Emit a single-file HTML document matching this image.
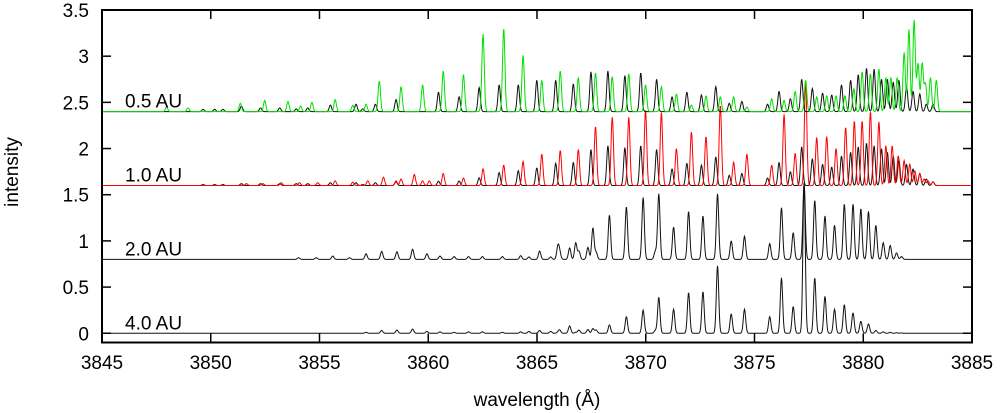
<!DOCTYPE html>
<html><head><meta charset="utf-8">
<style>
html,body{margin:0;padding:0;background:#fff;}
svg{display:block;font-family:"Liberation Sans",Arial,sans-serif;}
</style></head>
<body>
<svg id="chart" width="1000" height="413" viewBox="0 0 1000 413"></svg>
<script>
// ---- data ----
const xTicks = [3845,3850,3855,3860,3865,3870,3875,3880,3885];
const yTicks = [0,0.5,1,1.5,2,2.5,3,3.5];
const yTickLabels = ["0","0.5","1","1.5","2","2.5","3","3.5"];
const seriesLabels = ["4.0 AU","2.0 AU","1.0 AU","0.5 AU"];
const seriesOffsets = [0,0.8,1.6,2.4];

const linesLow = [3854.04,3854.85,3855.61,3856.38,3857.14,3857.86,3858.56,3859.28,3859.94,3860.54,3861.19,3861.85,3862.49,3863.41,3864.25,3864.63,3865.12,3865.63,3865.96,3866.04,3866.50,3866.78,3866.93,3867.34,3867.57,3867.72,3868.33,3869.11,3869.88,3870.44,3870.60,3871.28,3871.97,3872.63,3873.30,3873.93,3874.54,3875.70,3876.24,3876.78,3877.28,3877.77,3878.24,3878.68,3879.13,3879.53,3879.89,3880.24,3880.58,3880.92,3881.24,3881.53,3881.76];
const int40 = [0,0,0,0,0.01,0.03,0.035,0.045,0.02,0.015,0.01,0.015,0.015,0.01,0.015,0.02,0.03,0.02,0.01,0.035,0.08,0.01,0.035,0.04,0.05,0.035,0.09,0.18,0.25,0.03,0.39,0.26,0.44,0.45,0.73,0.21,0.26,0.18,0.60,0.29,1.63,0.60,0.40,0.26,0.31,0.22,0.13,0.10,0.03,0.015,0.01,0.005,0.003];
const int20 = [0.018,0.018,0.036,0.018,0.06,0.087,0.083,0.11,0.06,0.036,0.03,0.03,0.03,0.03,0.04,0.026,0.09,0.026,0.134,0.076,0.123,0.178,0.087,0.13,0.34,0.076,0.48,0.57,0.67,0.087,0.71,0.35,0.52,0.47,0.71,0.20,0.25,0.17,0.56,0.29,0.83,0.64,0.47,0.37,0.60,0.60,0.55,0.52,0.37,0.18,0.15,0.07,0.03];

const linesBlackTop = [3849.65,3850.18,3850.56,3851.41,3852.29,3853.17,3853.93,3854.46,3855.50,3856.68,3856.99,3857.57,3858.52,3860.47,3861.42,3862.34,3863.26,3864.14,3864.99,3865.86,3866.67,3867.48,3868.26,3869.04,3869.77,3870.50,3871.21,3871.89,3872.56,3873.22,3873.84,3874.42,3875.60,3876.13,3876.65,3877.17,3877.66,3878.13,3878.55,3879.00,3879.42,3879.77,3880.15,3880.50,3880.84,3881.11,3881.38,3881.64,3881.99,3882.29,3882.60,3882.90,3883.21];
const int10Black = [0.01,0.01,0.01,0.02,0.02,0.02,0.02,0.02,0.03,0.03,0.01,0.03,0.04,0.047,0.047,0.083,0.14,0.16,0.19,0.24,0.25,0.39,0.43,0.41,0.43,0.39,0.18,0.24,0.22,0.31,0.11,0.13,0.08,0.25,0.15,0.42,0.29,0.23,0.20,0.32,0.36,0.42,0.46,0.43,0.40,0.36,0.32,0.28,0.23,0.18,0.13,0.07,0.04];
const int05Black = [0.025,0.025,0.025,0.06,0.04,0.04,0.03,0.04,0.07,0.08,0.03,0.08,0.13,0.21,0.16,0.26,0.29,0.29,0.34,0.34,0.30,0.43,0.44,0.39,0.42,0.35,0.16,0.21,0.18,0.27,0.09,0.11,0.08,0.22,0.14,0.35,0.25,0.20,0.18,0.29,0.34,0.40,0.47,0.46,0.35,0.35,0.32,0.34,0.27,0.22,0.19,0.08,0.08];

const linesGreen = [3847.97,3848.96,3851.36,3852.48,3853.55,3854.13,3854.65,3855.72,3856.53,3857.14,3857.75,3858.75,3859.74,3860.69,3861.62,3862.52,3863.47,3864.36,3865.22,3866.07,3866.90,3867.69,3868.46,3869.22,3869.99,3870.72,3871.41,3872.10,3872.77,3873.43,3874.04,3874.65,3875.79,3876.36,3876.87,3877.35,3877.86,3878.32,3878.75,3879.16,3879.57,3879.95,3880.33,3880.72,3881.04,3881.27,3881.56,3881.88,3882.10,3882.34,3882.52,3882.71,3882.86,3883.09,3883.36];
const int05Green = [0.05,0.04,0.09,0.12,0.11,0.06,0.10,0.13,0.07,0.08,0.33,0.27,0.29,0.44,0.40,0.84,0.90,0.61,0.34,0.44,0.37,0.42,0.38,0.41,0.29,0.27,0.19,0.07,0.17,0.16,0.16,0.05,0.14,0.12,0.22,0.34,0.16,0.17,0.17,0.17,0.25,0.43,0.41,0.46,0.37,0.37,0.37,0.64,0.89,0.99,0.52,0.52,0.30,0.37,0.34];

const linesRed = [3851.64,3852.40,3853.24,3854.08,3854.92,3855.72,3856.53,3857.22,3857.94,3858.52,3858.75,3859.36,3859.74,3860.05,3860.69,3861.62,3862.52,3863.47,3864.36,3865.22,3866.07,3866.90,3867.69,3868.46,3869.22,3869.99,3870.72,3871.41,3872.10,3872.77,3873.43,3874.04,3874.65,3875.79,3876.36,3876.87,3877.35,3877.86,3878.32,3878.75,3879.19,3879.59,3879.95,3880.33,3880.72,3881.04,3881.33,3881.61,3881.88,3882.14,3882.37,3882.60,3882.80,3882.98,3883.21];
const int10Red = [0.02,0.02,0.03,0.03,0.03,0.05,0.035,0.05,0.09,0.05,0.07,0.12,0.05,0.05,0.13,0.08,0.18,0.22,0.26,0.34,0.38,0.39,0.64,0.74,0.74,0.82,0.79,0.40,0.58,0.53,0.87,0.25,0.34,0.22,0.77,0.35,1.14,0.52,0.53,0.40,0.63,0.70,0.70,0.80,0.69,0.43,0.43,0.32,0.27,0.23,0.16,0.13,0.07,0.05,0.04];

// ---- layout ----
const L=102,R=972,T=10,B=342.5;
const XMIN=3845,XMAX=3885,YMIN=-0.1,YMAX=3.5;
const sx=v=>L+(v-XMIN)/(XMAX-XMIN)*(R-L);
const sy=v=>B-(v-YMIN)/(YMAX-YMIN)*(B-T);
const NS="http://www.w3.org/2000/svg";
const svg=document.getElementById('chart');
function mk(tag,attrs,parent){const e=document.createElementNS(NS,tag);for(const k in attrs)e.setAttribute(k,attrs[k]);(parent||svg).appendChild(e);return e;}

const defs=mk('defs',{});
const cp=mk('clipPath',{id:'plotclip'},defs);
mk('rect',{x:L,y:T,width:R-L,height:B-T},cp);

const SIG=0.055;
function spectrum(lines,ints,offset){
  let d='';
  for(let w=XMIN;w<=XMAX+1e-9;w+=0.02){
    let s=0;
    for(let i=0;i<lines.length;i++){const dx=w-lines[i];if(Math.abs(dx)<0.4)s+=ints[i]*Math.exp(-dx*dx/(2*SIG*SIG));}
    d+=(d?'L':'M')+sx(w).toFixed(2)+' '+sy(offset+s).toFixed(2);
  }
  return d;
}
const g=mk('g',{'clip-path':'url(#plotclip)'});



let p;
p=mk('path',{d:spectrum(linesLow,int40,seriesOffsets[0]),fill:'none',stroke:'#111','stroke-width':1},g);


p=mk('path',{d:spectrum(linesLow,int20,seriesOffsets[1]),fill:'none',stroke:'#111','stroke-width':1},g);


p=mk('path',{d:spectrum(linesBlackTop,int10Black,seriesOffsets[2]),fill:'none',stroke:'#111','stroke-width':1},g);


p=mk('path',{d:spectrum(linesRed,int10Red,seriesOffsets[2]),fill:'none',stroke:'#ff0000','stroke-width':1},g);


p=mk('path',{d:spectrum(linesBlackTop,int05Black,seriesOffsets[3]),fill:'none',stroke:'#111','stroke-width':1},g);


p=mk('path',{d:spectrum(linesGreen,int05Green,seriesOffsets[3]),fill:'none',stroke:'#00e000','stroke-width':1},g);



// series labels
seriesLabels.forEach((s,i)=>{
  const t=mk('text',{x:125,y:sy(seriesOffsets[i])-4,'font-size':19,fill:'#000'});
  t.textContent=s;
  
  
});

// frame
const fr=mk('rect',{x:L,y:T,width:R-L,height:B-T,fill:'none',stroke:'#000','stroke-width':2});



// ticks
xTicks.forEach(v=>{
  const x=sx(v);
  const t1=mk('line',{x1:x,x2:x,y1:B,y2:B-9,stroke:'#000','stroke-width':1.5});
  
  
  const t2=mk('line',{x1:x,x2:x,y1:T,y2:T+9,stroke:'#000','stroke-width':1.5});
  
  
  const lb=mk('text',{x:x,y:369,'font-size':19,'text-anchor':'middle',fill:'#000'});
  lb.textContent=String(v);
  
  
});
yTicks.forEach((v,i)=>{
  const y=sy(v);
  const t1=mk('line',{x1:L,x2:L+9,y1:y,y2:y,stroke:'#000','stroke-width':1.5});
  
  
  const t2=mk('line',{x1:R,x2:R-9,y1:y,y2:y,stroke:'#000','stroke-width':1.5});
  
  
  const lb=mk('text',{x:89,y:y+7,'font-size':19,'text-anchor':'end',fill:'#000'});
  lb.textContent=yTickLabels[i];
  
  
});

const xt=mk('text',{x:537,y:406,'font-size':19,'text-anchor':'middle',fill:'#000'});
xt.textContent='wavelength (Å)';


const yt=mk('text',{x:0,y:0,'font-size':19,'text-anchor':'middle',fill:'#000',transform:'translate(18,172) rotate(-90)'});
yt.textContent='intensity';


</script>
</body></html>
